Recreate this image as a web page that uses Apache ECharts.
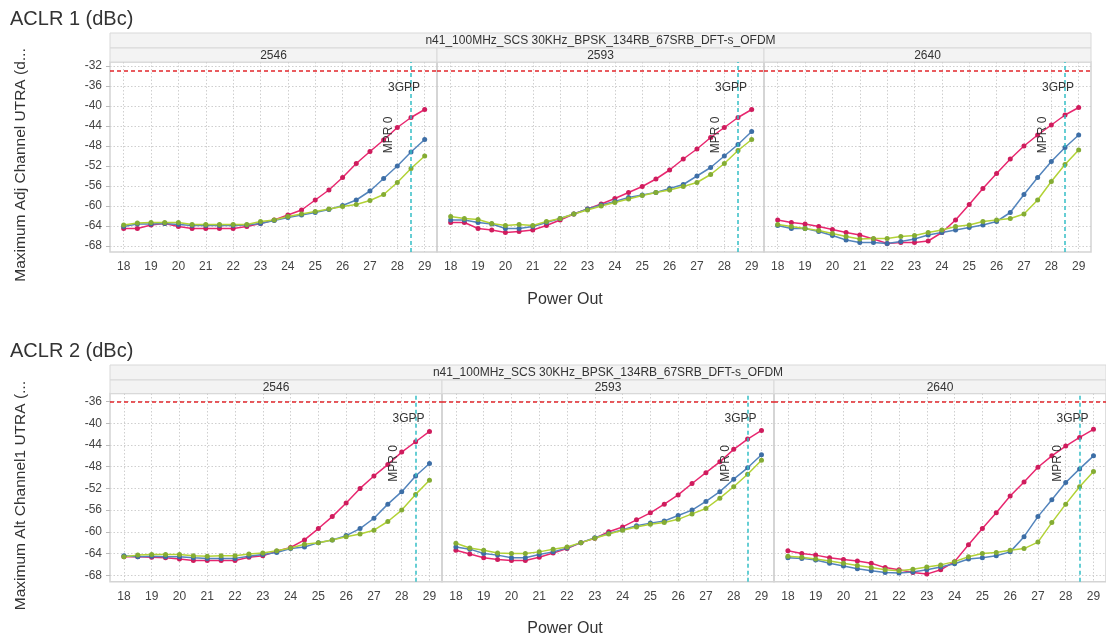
<!DOCTYPE html>
<html>
<head>
<meta charset="utf-8">
<style>html,body{margin:0;padding:0;background:#fff}#main{width:1106px;height:639px}</style>
<script src="https://cdn.jsdelivr.net/npm/echarts@6/dist/echarts.min.js"></script>
</head>
<body>
<div id="main"></div>
<script>
// x values (Power Out) and tick labels
var powerOut = [18, 18.5, 19, 19.5, 20, 20.5, 21, 21.5, 22, 22.5, 23, 23.5, 24, 24.5, 25, 25.5, 26, 26.5, 27, 27.5, 28, 28.5, 29];
var xTicks = [18, 19, 20, 21, 22, 23, 24, 25, 26, 27, 28, 29];
var yTicks1 = [-32, -36, -40, -44, -48, -52, -56, -60, -64, -68];
var yTicks2 = [-36, -40, -44, -48, -52, -56, -60, -64, -68];
var freqs = ['2546', '2593', '2640'];
var caseName = 'n41_100MHz_SCS 30KHz_BPSK_134RB_67SRB_DFT-s_OFDM';
var limit1 = -33;
var limit2 = -36;
var mpr0 = 28.5;

// ACLR 1
var aclr1_2546_red   = [-64.5,-64.5,-63.8,-63.5,-64.1,-64.5,-64.5,-64.5,-64.5,-64.1,-63.5,-62.8,-61.8,-60.8,-58.8,-56.8,-54.3,-51.5,-49.1,-46.8,-44.3,-42.3,-40.7];
var aclr1_2546_blue  = [-64.1,-63.6,-63.6,-63.5,-63.7,-63.9,-63.9,-63.9,-63.9,-63.8,-63.5,-62.9,-62.3,-61.8,-61.3,-60.7,-59.9,-58.8,-57.0,-54.5,-52.0,-49.2,-46.7];
var aclr1_2546_green = [-63.8,-63.4,-63.3,-63.3,-63.3,-63.7,-63.7,-63.7,-63.7,-63.7,-63.1,-62.8,-62.1,-61.6,-61.1,-60.6,-60.1,-59.7,-58.9,-57.7,-55.3,-52.5,-50.0];
var aclr1_2593_red   = [-63.3,-63.3,-64.5,-64.8,-65.3,-65.1,-64.8,-63.9,-62.8,-61.6,-60.6,-59.6,-58.5,-57.3,-56.1,-54.6,-52.8,-50.6,-48.6,-46.3,-44.3,-42.3,-40.7];
var aclr1_2593_blue  = [-62.8,-62.8,-63.3,-63.6,-64.5,-64.5,-64.1,-63.3,-62.5,-61.6,-60.6,-59.8,-59.1,-58.3,-57.8,-57.3,-56.5,-55.7,-54.0,-52.3,-50.0,-47.7,-45.1];
var aclr1_2593_green = [-62.1,-62.5,-62.7,-63.5,-63.9,-63.7,-63.9,-63.1,-62.5,-61.6,-60.8,-60.0,-59.3,-58.6,-57.9,-57.3,-56.8,-56.1,-55.3,-53.7,-51.5,-48.9,-46.7];
var aclr1_2640_red   = [-62.8,-63.3,-63.6,-64.1,-64.7,-65.3,-65.8,-66.6,-67.5,-67.3,-67.3,-67.0,-65.3,-62.8,-59.7,-56.5,-53.5,-50.6,-48.0,-45.8,-43.8,-41.8,-40.3];
var aclr1_2640_blue  = [-63.9,-64.5,-64.5,-65.1,-65.9,-66.8,-67.3,-67.3,-67.5,-67.1,-66.6,-65.8,-65.3,-64.8,-64.3,-63.8,-63.1,-61.3,-57.7,-54.3,-51.1,-48.3,-45.8];
var aclr1_2640_green = [-63.7,-64.1,-64.5,-64.9,-65.5,-66.1,-66.6,-66.5,-66.5,-66.1,-65.9,-65.3,-64.8,-64.1,-63.8,-63.1,-62.8,-62.5,-61.6,-58.8,-55.1,-51.7,-48.8];

// ACLR 2
var aclr2_2546_red   = [-64.6,-64.6,-64.7,-64.8,-65.0,-65.3,-65.3,-65.3,-65.3,-64.7,-64.4,-63.6,-62.9,-61.5,-59.4,-57.2,-54.7,-52.0,-49.7,-47.6,-45.3,-43.4,-41.5];
var aclr2_2546_blue  = [-64.4,-64.6,-64.5,-64.6,-64.6,-64.8,-64.9,-64.9,-64.9,-64.5,-64.2,-63.8,-63.1,-62.8,-62.0,-61.5,-60.7,-59.4,-57.5,-54.9,-52.6,-49.7,-47.4];
var aclr2_2546_green = [-64.6,-64.3,-64.2,-64.2,-64.2,-64.4,-64.5,-64.4,-64.4,-64.1,-63.9,-63.5,-63.0,-62.3,-62.0,-61.5,-60.9,-60.4,-59.7,-58.1,-56.0,-53.1,-50.5];
var aclr2_2593_red   = [-63.4,-64.1,-64.8,-65.1,-65.3,-65.3,-64.7,-63.9,-63.1,-62.0,-61.2,-60.0,-59.1,-57.8,-56.5,-54.9,-53.2,-51.1,-49.1,-47.1,-44.8,-42.9,-41.3];
var aclr2_2593_blue  = [-62.8,-63.2,-64.0,-64.3,-64.8,-64.8,-64.2,-63.7,-63.0,-62.0,-61.1,-60.3,-59.6,-58.9,-58.4,-58.0,-57.0,-56.0,-54.4,-52.6,-50.3,-48.2,-45.8];
var aclr2_2593_green = [-62.1,-63.0,-63.4,-63.9,-64.0,-64.0,-63.7,-63.2,-62.8,-62.0,-61.2,-60.4,-59.7,-59.1,-58.6,-58.3,-57.7,-56.7,-55.7,-53.8,-51.7,-49.4,-46.8];
var aclr2_2640_red   = [-63.5,-64.0,-64.3,-64.8,-65.1,-65.4,-65.8,-66.6,-67.0,-67.5,-67.8,-67.0,-65.5,-62.4,-59.4,-56.5,-53.4,-50.8,-48.1,-46.0,-44.2,-42.6,-41.1];
var aclr2_2640_blue  = [-64.8,-64.9,-65.2,-65.8,-66.3,-66.8,-67.2,-67.5,-67.6,-67.4,-67.0,-66.5,-65.9,-65.0,-64.8,-64.4,-63.7,-60.9,-57.2,-54.1,-50.9,-48.4,-46.0];
var aclr2_2640_green = [-64.5,-64.7,-65.0,-65.4,-65.8,-66.2,-66.6,-67.0,-67.2,-66.9,-66.5,-66.1,-65.5,-64.6,-64.0,-63.8,-63.4,-63.1,-61.9,-58.3,-54.9,-51.7,-48.9];

var myChart = echarts.init(document.getElementById('main'));
var font = 'Liberation Sans, Arial, sans-serif';
var colors = [
    { line: '#e8276f', dot: '#cf1c5d' },
    { line: '#5384bc', dot: '#3d6ea6' },
    { line: '#b2d236', dot: '#84ac34' }
];

var rows = [{
    title: 'ACLR 1 (dBc)', titleTop: 4, yName: 'Maximum Adj Channel UTRA (d...', xNameTop: 287,
    head: 33, top: 62, height: 190, left: 110, width: 327,
    min: -69.2, max: -31.2, ticks: yTicks1, limit: limit1, gppY: -36.4, mprY: -45.8,
    data: [
        [aclr1_2546_red, aclr1_2546_blue, aclr1_2546_green],
        [aclr1_2593_red, aclr1_2593_blue, aclr1_2593_green],
        [aclr1_2640_red, aclr1_2640_blue, aclr1_2640_green]
    ]
}, {
    title: 'ACLR 2 (dBc)', titleTop: 336, yName: 'Maximum Alt Channel1 UTRA (...', xNameTop: 616,
    head: 365, top: 393.5, height: 188.2, left: 110, width: 332,
    min: -69.2, max: -34.5, ticks: yTicks2, limit: limit2, gppY: -39.2, mprY: -47.4,
    data: [
        [aclr2_2546_red, aclr2_2546_blue, aclr2_2546_green],
        [aclr2_2593_red, aclr2_2593_blue, aclr2_2593_green],
        [aclr2_2640_red, aclr2_2640_blue, aclr2_2640_green]
    ]
}];

var grid = [], xAxis = [], yAxis = [], series = [], title = [], graphic = [];

rows.forEach(function (row, r) {
    var total = row.width * 3;
    title.push({ text: row.title, left: 5, top: row.titleTop,
        textStyle: { fontSize: 20, fontWeight: 'normal', color: '#333', fontFamily: font } });
    title.push({ text: 'Power Out', left: 560, top: row.xNameTop, textAlign: 'center',
        textStyle: { fontSize: 16, fontWeight: 'normal', color: '#333', fontFamily: font } });

    // header bands
    graphic.push({ type: 'rect', silent: true, shape: { x: row.left, y: row.head, width: total, height: 15 },
        style: { fill: '#f3f3f3', stroke: '#d9d9d9', lineWidth: 1 } });
    graphic.push({ type: 'text', silent: true, x: row.left + total / 2, y: row.head + 8,
        style: { text: caseName, fill: '#333', font: '12px ' + font, align: 'center', verticalAlign: 'middle',
            textAlign: 'center', textVerticalAlign: 'middle' } });

    freqs.forEach(function (f, p) {
        var gi = r * 3 + p;
        var x0 = row.left + p * row.width;
        graphic.push({ type: 'rect', silent: true, shape: { x: x0, y: row.head + 15, width: row.width, height: row.top - row.head - 15 },
            style: { fill: '#f3f3f3', stroke: '#d9d9d9', lineWidth: 1 } });
        graphic.push({ type: 'text', silent: true, x: x0 + row.width / 2, y: (row.head + 15 + row.top) / 2 + 0.5,
            style: { text: f, fill: '#333', font: '12px ' + font, align: 'center', verticalAlign: 'middle',
                textAlign: 'center', textVerticalAlign: 'middle' } });

        grid.push({ left: x0, top: row.top, width: row.width, height: row.height,
            show: true, borderColor: '#d4d4d4', borderWidth: 1.5, containLabel: false });

        xAxis.push({
            type: 'value', gridIndex: gi, min: 17.5, max: 29.45,
            axisLine: { show: false },
            axisTick: { show: false, customValues: xTicks },
            axisLabel: { customValues: xTicks, color: '#444', fontSize: 12, fontFamily: font, margin: 9 },
            splitLine: { show: true, lineStyle: { color: '#cfcfcf', type: [1.5, 2], width: 1 } }
        });
        yAxis.push({
            type: 'value', gridIndex: gi, min: row.min, max: row.max,
            name: p === 0 ? row.yName : '', nameLocation: 'middle', nameGap: 81, nameRotate: 90,
            nameTextStyle: { fontSize: 15.5, color: '#333', fontFamily: font, padding: [0, 16, 0, 0] },
            axisLine: { show: false },
            axisTick: { show: p === 0, customValues: row.ticks, length: 4, lineStyle: { color: '#bbb' } },
            axisLabel: { show: p === 0, customValues: row.ticks, color: '#444', fontSize: 12, fontFamily: font, margin: 8 },
            splitLine: { show: true, lineStyle: { color: '#cfcfcf', type: [1.5, 2], width: 1 } }
        });

        row.data[p].forEach(function (vals, k) {
            var s = {
                name: f + '-' + k, type: 'line', xAxisIndex: gi, yAxisIndex: gi,
                data: powerOut.map(function (x, i) { return [x, vals[i]]; }),
                symbol: 'circle', symbolSize: 5, showSymbol: true,
                lineStyle: { color: colors[k].line, width: 1.5 },
                itemStyle: { color: colors[k].dot },
                animation: false, z: 3
            };
            if (k === 0) {
                s.markLine = {
                    silent: true, symbol: 'none', animation: false, label: { show: false },
                    data: [
                        { yAxis: row.limit, lineStyle: { color: '#e2262b', type: [4, 3], width: 1.5 } },
                        { xAxis: mpr0, lineStyle: { color: '#35bfc6', type: [4, 3], width: 1.5 } }
                    ]
                };
                // offset of a rotated label is taken in the label's own frame
                s.markPoint = {
                    silent: true, symbol: 'circle', symbolSize: 0, animation: false,
                    label: { show: true, color: '#333', fontSize: 12, fontFamily: font },
                    data: [
                        { coord: [mpr0, row.gppY], label: { formatter: '3GPP', offset: [-7, 0] } },
                        { coord: [mpr0, row.mprY], label: { formatter: 'MPR 0', rotate: 90, offset: [0, -22] } }
                    ]
                };
            }
            series.push(s);
        });
    });
});

option = {
    animation: false,
    textStyle: { fontFamily: font },
    title: title,
    grid: grid,
    xAxis: xAxis,
    yAxis: yAxis,
    series: series,
    graphic: graphic
};

myChart.setOption(option);
</script>
</body>
</html>
